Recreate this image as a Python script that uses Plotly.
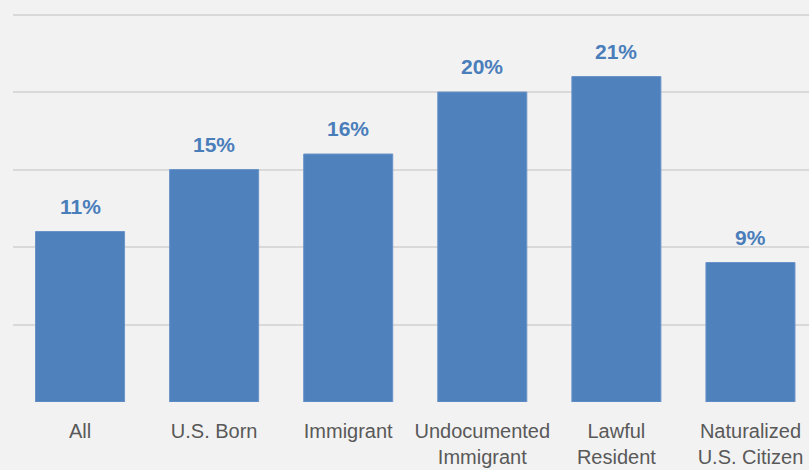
import plotly.graph_objects as go

categories = ["All", "U.S. Born", "Immigrant", "Undocumented<br>Immigrant",
              "Lawful<br>Resident", "Naturalized<br>U.S. Citizen"]
shares = [11, 15, 16, 20, 21, 9]
labels = [f"{v}%" for v in shares]

bar_color = "#4f81bd"
label_color = "#4a7ebb"
font_family = "Arial, Liberation Sans, sans-serif"

fig = go.Figure()

fig.add_trace(go.Bar(
    x=categories,
    y=shares,
    marker=dict(color=bar_color, line=dict(color="#6a93c8", width=1)),
    width=0.664,
    hoverinfo="skip",
))

# value labels sitting above each bar
for cat, val, lab in zip(categories, shares, labels):
    fig.add_annotation(
        x=cat, y=val, text=f"<b>{lab}</b>",
        showarrow=False, yanchor="bottom", yshift=12,
        font=dict(family=font_family, size=21, color=label_color),
    )

fig.update_layout(
    width=809, height=470,
    margin=dict(l=13, r=0, t=0, b=68),
    paper_bgcolor="#f2f2f2",
    plot_bgcolor="#f2f2f2",
    showlegend=False,
    font=dict(family=font_family, color="#595959"),
    xaxis=dict(
        range=[-0.5, 5.4366],
        tickfont=dict(size=20, color="#595959"),
        ticklabelstandoff=15,
        showgrid=False, zeroline=False, ticks="",
        showline=False, fixedrange=True,
    ),
    yaxis=dict(
        range=[0, 25.94],
        tickvals=[0, 5, 10, 15, 20, 25],
        showticklabels=False,
        gridcolor="#d9d9d9", gridwidth=2,
        zeroline=False, fixedrange=True,
    ),
)

# drop the default page margin so the chart sits flush with the window
fig.write_html("out.html", config={"displayModeBar": False},
               post_script="document.body.style.margin='0';")
